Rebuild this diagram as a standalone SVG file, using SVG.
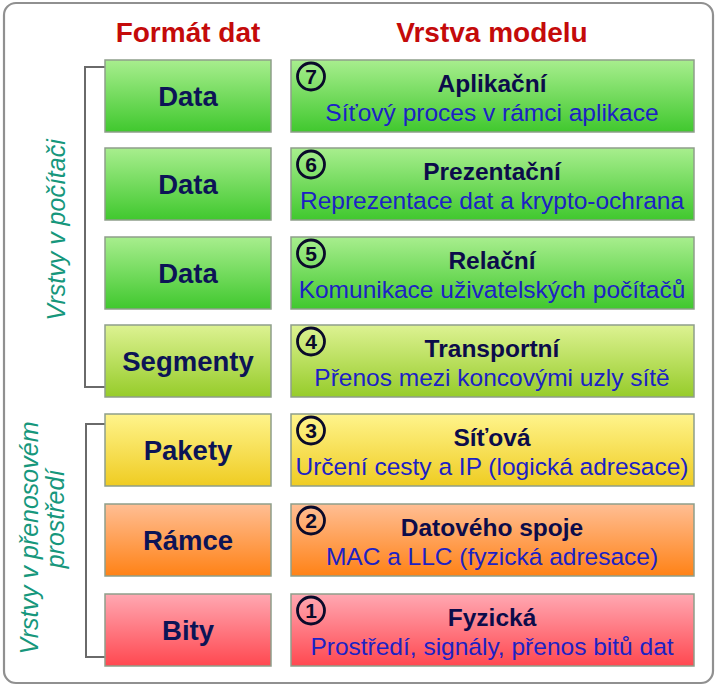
<svg xmlns="http://www.w3.org/2000/svg" width="717" height="690" viewBox="0 0 717 690">
<defs>
<linearGradient id="gGreen" x1="0" y1="0" x2="0" y2="1"><stop offset="0" stop-color="#a8ee8e"/><stop offset="1" stop-color="#40c82e"/></linearGradient>
<linearGradient id="gLime" x1="0" y1="0" x2="0" y2="1"><stop offset="0" stop-color="#ddf292"/><stop offset="1" stop-color="#96cc2a"/></linearGradient>
<linearGradient id="gYellow" x1="0" y1="0" x2="0" y2="1"><stop offset="0" stop-color="#fff48c"/><stop offset="1" stop-color="#efcc22"/></linearGradient>
<linearGradient id="gOrange" x1="0" y1="0" x2="0" y2="1"><stop offset="0" stop-color="#ffbe94"/><stop offset="1" stop-color="#ff8216"/></linearGradient>
<linearGradient id="gRed" x1="0" y1="0" x2="0" y2="1"><stop offset="0" stop-color="#ffa8b2"/><stop offset="1" stop-color="#ff4850"/></linearGradient>
</defs>
<style>
text{font-family:"Liberation Sans",Arial,sans-serif}
.hdr{font-size:28px;font-weight:bold;fill:#c40a0a;text-anchor:middle}
.box{stroke:#8e9e8a;stroke-width:1.5}
.fmt{font-size:27.5px;font-weight:bold;fill:#0c1456;text-anchor:middle}
.ttl{font-size:24.5px;font-weight:bold;fill:#0c0c4a;text-anchor:middle}
.sub{font-size:24.5px;fill:#1c22c4;text-anchor:middle}
.num{fill:none;stroke:#0a0a2a;stroke-width:2.8}
.numt{font-size:21px;font-weight:bold;fill:#0a0a2a;text-anchor:middle}
.side{font-size:25px;font-style:italic;fill:#16977c;text-anchor:middle}
.br{fill:none;stroke:#6a6a6a;stroke-width:2}
</style>
<rect x="4" y="3" width="709" height="680" rx="12" fill="#ffffff" stroke="#909090" stroke-width="2.2"/>
<text class="hdr" x="188" y="42">Formát dat</text>
<text class="hdr" x="492" y="42">Vrstva modelu</text>
<g id="connectors">
<path class="br" d="M105 67 H85 V387 H105"/>
<path class="br" d="M105 424 H86 V657 H105"/>
</g>
<g id="side-labels">
<text class="side" transform="translate(65 230) rotate(-90)">Vrstvy v počítači</text>
<text class="side" transform="translate(38 538) rotate(-90)">Vrstvy v přenosovém</text>
<text class="side" transform="translate(64 519) rotate(-90)">prostředí</text>
</g>
<g id="row7">
<rect class="box" x="105" y="60" width="166" height="72" fill="url(#gGreen)"/>
<text class="fmt" x="188" y="106">Data</text>
<rect class="box" x="291" y="60" width="403" height="72" fill="url(#gGreen)"/>
<circle class="num" cx="311" cy="76.5" r="13.5"/><text class="numt" x="311" y="84">7</text>
<text class="ttl" x="492" y="92">Aplikační</text>
<text class="sub" x="492" y="121">Síťový proces v rámci aplikace</text>
</g>
<g id="row6">
<rect class="box" x="105" y="148" width="166" height="72" fill="url(#gGreen)"/>
<text class="fmt" x="188" y="194">Data</text>
<rect class="box" x="291" y="148" width="403" height="72" fill="url(#gGreen)"/>
<circle class="num" cx="311" cy="164.5" r="13.5"/><text class="numt" x="311" y="172">6</text>
<text class="ttl" x="492" y="180">Prezentační</text>
<text class="sub" x="492" y="209">Reprezentace dat a krypto-ochrana</text>
</g>
<g id="row5">
<rect class="box" x="105" y="237" width="166" height="72" fill="url(#gGreen)"/>
<text class="fmt" x="188" y="283">Data</text>
<rect class="box" x="291" y="237" width="403" height="72" fill="url(#gGreen)"/>
<circle class="num" cx="311" cy="253.5" r="13.5"/><text class="numt" x="311" y="261">5</text>
<text class="ttl" x="492" y="269">Relační</text>
<text class="sub" x="492" y="298">Komunikace uživatelských počítačů</text>
</g>
<g id="row4">
<rect class="box" x="105" y="325" width="166" height="72" fill="url(#gLime)"/>
<text class="fmt" x="188" y="371">Segmenty</text>
<rect class="box" x="291" y="325" width="403" height="72" fill="url(#gLime)"/>
<circle class="num" cx="311" cy="341.5" r="13.5"/><text class="numt" x="311" y="349">4</text>
<text class="ttl" x="492" y="357">Transportní</text>
<text class="sub" x="492" y="386">Přenos mezi koncovými uzly sítě</text>
</g>
<g id="row3">
<rect class="box" x="105" y="414" width="166" height="72" fill="url(#gYellow)"/>
<text class="fmt" x="188" y="460">Pakety</text>
<rect class="box" x="291" y="414" width="403" height="72" fill="url(#gYellow)"/>
<circle class="num" cx="311" cy="430.5" r="13.5"/><text class="numt" x="311" y="438">3</text>
<text class="ttl" x="492" y="446">Síťová</text>
<text class="sub" x="492" y="475">Určení cesty a IP (logická adresace)</text>
</g>
<g id="row2">
<rect class="box" x="105" y="504" width="166" height="72" fill="url(#gOrange)"/>
<text class="fmt" x="188" y="550">Rámce</text>
<rect class="box" x="291" y="504" width="403" height="72" fill="url(#gOrange)"/>
<circle class="num" cx="311" cy="520.5" r="13.5"/><text class="numt" x="311" y="528">2</text>
<text class="ttl" x="492" y="536">Datového spoje</text>
<text class="sub" x="492" y="565">MAC a LLC (fyzická adresace)</text>
</g>
<g id="row1">
<rect class="box" x="105" y="594" width="166" height="72" fill="url(#gRed)"/>
<text class="fmt" x="188" y="640">Bity</text>
<rect class="box" x="291" y="594" width="403" height="72" fill="url(#gRed)"/>
<circle class="num" cx="311" cy="610.5" r="13.5"/><text class="numt" x="311" y="618">1</text>
<text class="ttl" x="492" y="626">Fyzická</text>
<text class="sub" x="492" y="655">Prostředí, signály, přenos bitů dat</text>
</g>
</svg>
